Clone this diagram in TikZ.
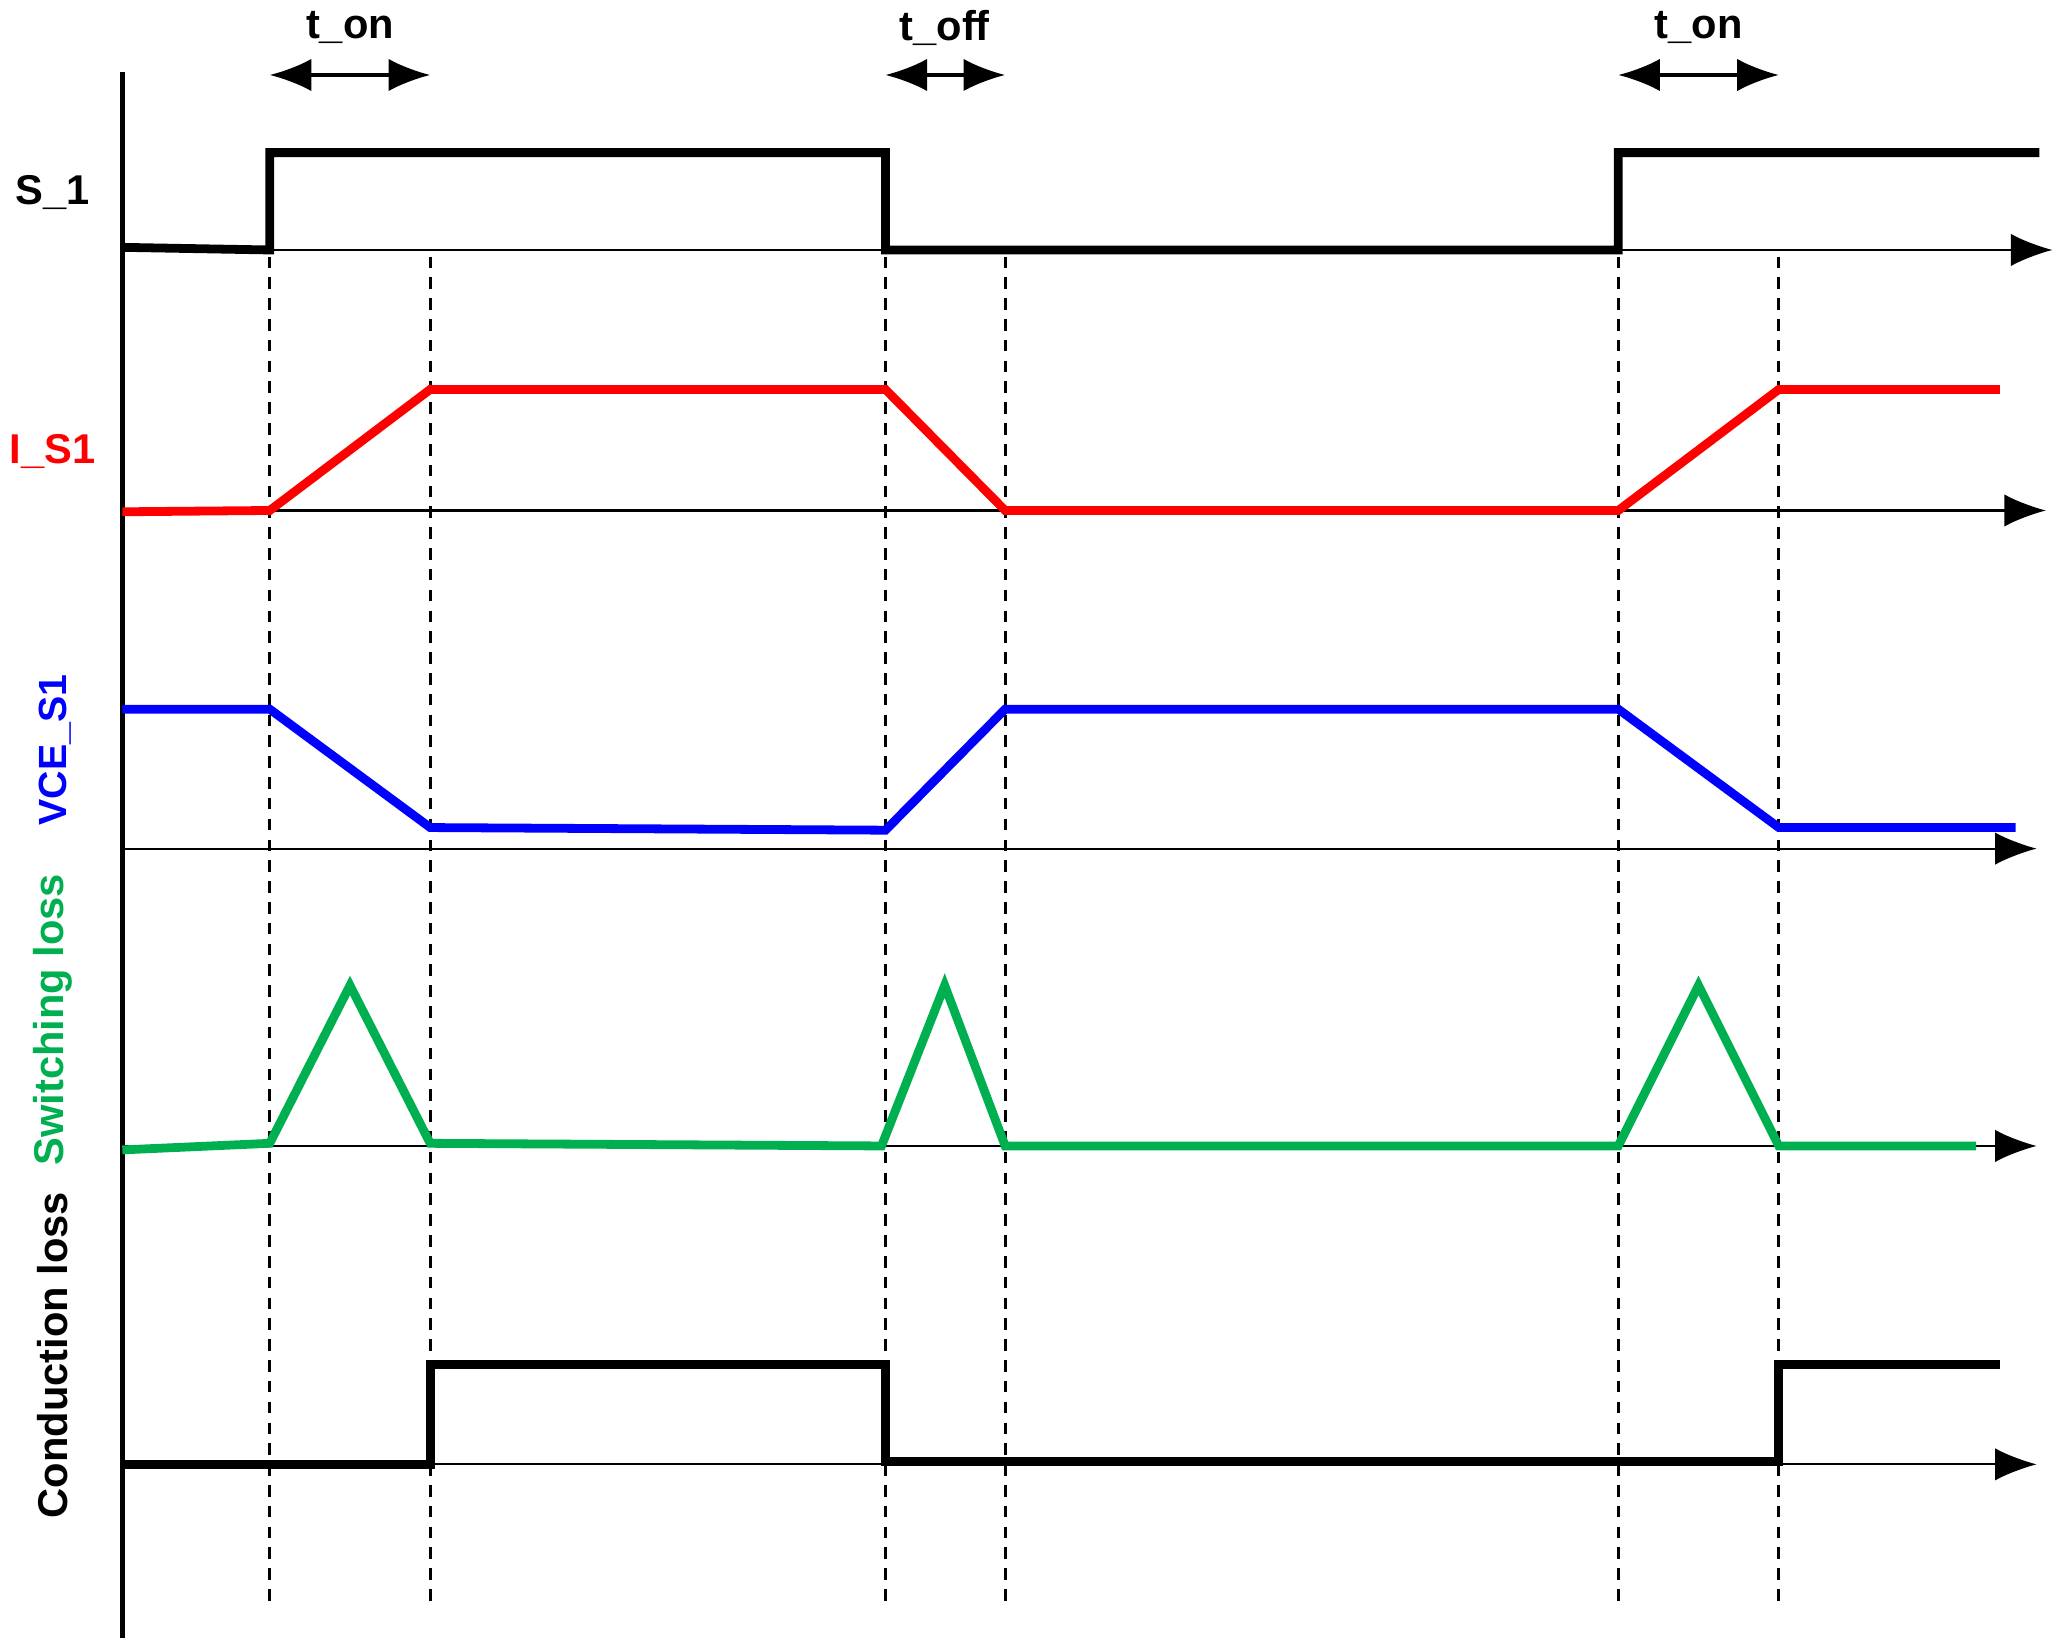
\documentclass[tikz,border=0pt]{standalone}
\usepackage{fontspec}
\setmainfont{Liberation Sans}
\usetikzlibrary{arrows.meta}
\definecolor{sgreen}{HTML}{00B050}
\begin{document}
\begin{tikzpicture}[x=0.01cm,y=-0.01cm,
  sig/.style={line width=1.9pt,line join=miter},
  ax/.style={line width=0.45pt,-{Latex[length=9pt,width=7pt]}},
  dsh/.style={line width=0.65pt,dash pattern=on 2.5pt off 2pt},
  dim/.style={line width=0.7pt,{Latex[length=9pt,width=7pt]}-{Latex[length=9pt,width=7pt]}},
  lab/.style={font=\fontsize{9}{10}\selectfont\bfseries,inner sep=0pt}]
\useasboundingbox (0,0) rectangle (1568,1249);
% main vertical axis
\draw[line width=1.1pt] (93,55) -- (93,1245);
% horizontal axes
\draw[ax] (93,190) -- (1560,190);
\draw[ax] (93,388) -- (1555,388);
\draw[ax] (93,645) -- (1548,645);
\draw[ax] (93,871) -- (1548,871);
\draw[ax] (93,1113) -- (1548,1113);
% dashed verticals
\foreach \x in {205,327,673,764,1230,1352} \draw[dsh] (\x,195) -- (\x,1218);
% signals
\draw[sig] (93,188) -- (205,190) -- (205,116) -- (673,116) -- (673,190) -- (1230,190) -- (1230,116) -- (1550,116);
\draw[sig,red] (93,389) -- (205,388) -- (327,296) -- (673,296) -- (764,388) -- (1230,388) -- (1352,296) -- (1520,296);
\draw[sig,blue] (93,539) -- (205,539) -- (327,629) -- (673,631) -- (764,539) -- (1230,539) -- (1352,629) -- (1532,629);
\draw[sig,sgreen] (93,874) -- (205,869) -- (266,749) -- (327,869) -- (670,871) -- (718,749) -- (764,871) -- (1230,871) -- (1291,749) -- (1352,871) -- (1502,871);
\draw[sig] (93,1113) -- (327,1113) -- (327,1037) -- (673,1037) -- (673,1111) -- (1352,1111) -- (1352,1037) -- (1520,1037);
% time intervals
\coordinate (a1) at (205,57); \coordinate (b1) at (327,57);
\coordinate (a2) at (673,57); \coordinate (b2) at (764,57);
\coordinate (a3) at (1230,57); \coordinate (b3) at (1352,57);
\draw[dim] (a1) -- (b1);
\draw[dim] (a2) -- (b2);
\draw[dim] (a3) -- (b3);
\node[lab] (ton1) at (266,21) {t\_on};
\node[lab] (toff) at (718,21) {t\_off};
\node[lab] (ton2) at (1291,21) {t\_on};
% labels
\node[lab] (s1) at (40,146) {S\_1};
\node[lab,red] (is1) at (40,343) {I\_S1};
\node[lab,blue,rotate=90,font=\fontsize{8.5}{10}\selectfont\bfseries] (vce) at (42,570) {VCE\_S1};
\node[lab,sgreen,rotate=90] (sw) at (40,775) {Switching loss};
\node[lab,rotate=90] (cl) at (40,1030) {Conduction loss};
\end{tikzpicture}
\end{document}
